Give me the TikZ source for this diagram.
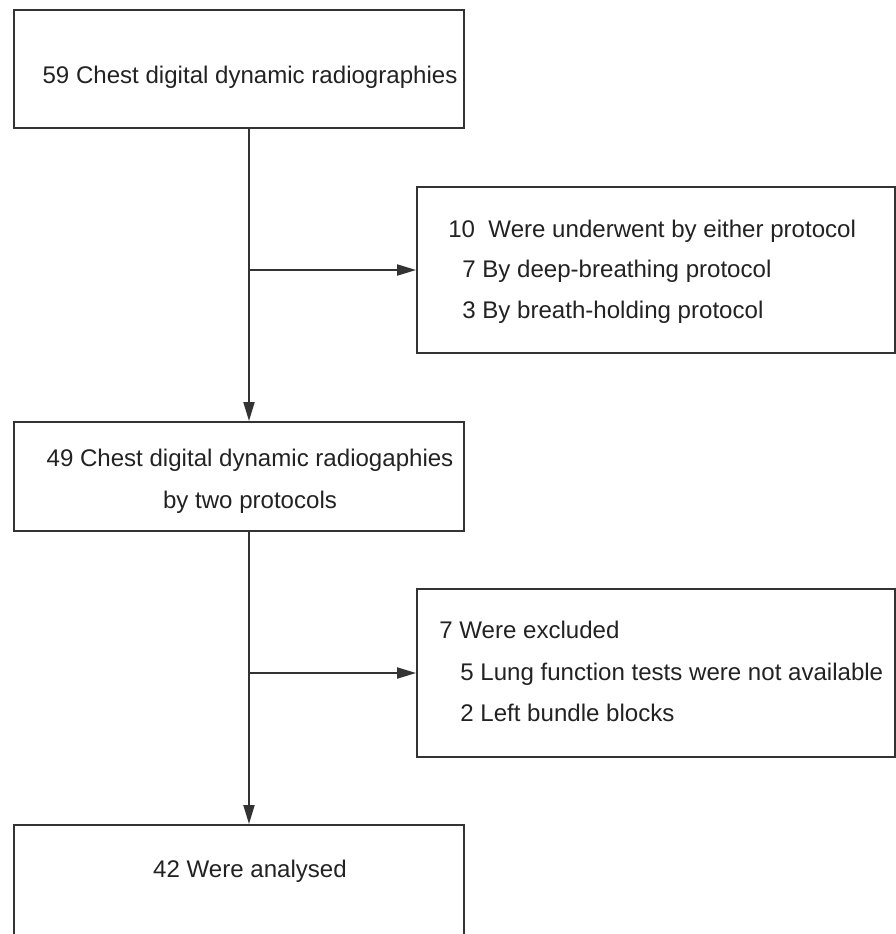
\documentclass[tikz,border=0pt]{standalone}
\usepackage{fontspec}
\setmainfont{Liberation Sans}
\usepackage{tikz}
\usetikzlibrary{positioning,arrows.meta}
\definecolor{frame}{HTML}{333333}
\definecolor{ink}{HTML}{222222}

\begin{document}
\begin{tikzpicture}[x=0.02cm,y=-0.02cm,
  font=\fontsize{13.7}{16}\selectfont,>={Triangle[length=0.38cm,width=0.22cm]},
  box/.style={draw=frame,line width=1.1pt,inner sep=0pt},
  txt/.style={text=ink,inner sep=0pt},
  link/.style={->,draw=frame,line width=1.1pt}]
\useasboundingbox (0,0) rectangle (896,934);
% ---------- main column ----------
\node[box,minimum width=9cm,minimum height=2.36cm] (b1) at (239,69) {};
\node[box,minimum width=9cm,minimum height=2.18cm] (b3) at (239,476.5) {};
\node[box,minimum width=9cm,minimum height=2.3cm] (b5) at (239,882.5) {};
\node[txt,anchor=base] (t1) at (250,83) {59 Chest digital dynamic radiographies};
\node[txt,anchor=base] (t3a) at (250,466) {49 Chest digital dynamic radiogaphies};
\node[txt,anchor=base] (t3b) at (250,508) {by two protocols};
\node[txt,anchor=base] (t5) at (250,877) {42 Were analysed};
% ---------- side boxes ----------
\node[box,minimum width=9.56cm,minimum height=3.32cm] (b2) at (656,270) {};
\node[box,minimum width=9.56cm,minimum height=3.36cm] (b4) at (656,673) {};
\node[txt,anchor=base west] (t2a) at (448,237) {10\ \ Were underwent by either protocol};
\node[txt,anchor=base west] (t2b) at (462,277) {7 By deep-breathing protocol};
\node[txt,anchor=base west] (t2c) at (462,318) {3 By breath-holding protocol};
\node[txt,anchor=base west] (t4a) at (439,638) {7 Were excluded};
\node[txt,anchor=base west] (t4b) at (460,680) {5 Lung function tests were not available};
\node[txt,anchor=base west] (t4c) at (460,721) {2 Left bundle blocks};
% ---------- arrows ----------
\coordinate (spine) at (249,0);
\draw[link] (b1.south -| spine) -- (b3.north -| spine);
\draw[link] (b3.south -| spine) -- (b5.north -| spine);
\draw[link] (spine |- b2.west) -- (b2.west);
\draw[link] (spine |- b4.west) -- (b4.west);
\end{tikzpicture}
\end{document}
